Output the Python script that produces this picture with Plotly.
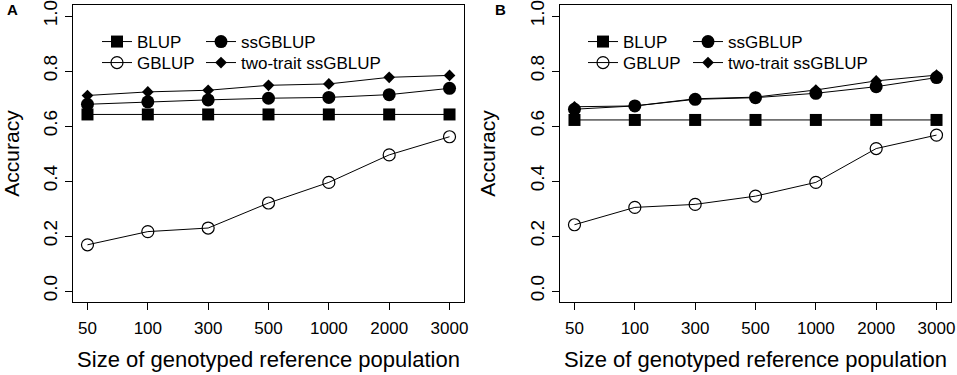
import plotly.graph_objects as go

# ---------------- data ----------------
sizes = ["50", "100", "300", "500", "1000", "2000", "3000"]

# Panel A
blup_a = [0.642, 0.642, 0.642, 0.642, 0.642, 0.642, 0.642]
ssgblup_a = [0.679, 0.688, 0.695, 0.701, 0.704, 0.714, 0.737]
gblup_a = [0.168, 0.216, 0.229, 0.320, 0.395, 0.495, 0.561]
twotrait_a = [0.711, 0.724, 0.730, 0.748, 0.753, 0.777, 0.784]

# Panel B
blup_b = [0.622, 0.622, 0.622, 0.622, 0.622, 0.622, 0.622]
ssgblup_b = [0.661, 0.673, 0.697, 0.703, 0.719, 0.743, 0.776]
gblup_b = [0.241, 0.304, 0.315, 0.345, 0.395, 0.518, 0.567]
twotrait_b = [0.670, 0.673, 0.699, 0.705, 0.731, 0.764, 0.785]

y_ticks = [0.0, 0.2, 0.4, 0.6, 0.8, 1.0]
y_tick_text = ["0.0", "0.2", "0.4", "0.6", "0.8", "1.0"]

FONT = "Liberation Sans, Arial, sans-serif"
W, H = 957, 375


def px(xpix):
    return xpix / W


def py(ypix):
    return 1 - ypix / H


styles = {
    "BLUP": dict(symbol="square", size=12, color="black", line=dict(width=0)),
    "ssGBLUP": dict(symbol="circle", size=13, color="black", line=dict(width=0)),
    "GBLUP": dict(symbol="circle-open", size=12, color="black", line=dict(width=1.2)),
    "two-trait ssGBLUP": dict(symbol="diamond", size=9, color="black", line=dict(width=0)),
}

fig = go.Figure()

panels = [
    ("x", "y", [("BLUP", blup_a, "legend"), ("ssGBLUP", ssgblup_a, "legend2"),
                ("GBLUP", gblup_a, "legend3"), ("two-trait ssGBLUP", twotrait_a, "legend4")]),
    ("x2", "y2", [("BLUP", blup_b, "legend5"), ("ssGBLUP", ssgblup_b, "legend6"),
                  ("GBLUP", gblup_b, "legend7"), ("two-trait ssGBLUP", twotrait_b, "legend8")]),
]

for xa, ya, series in panels:
    for name, vals, leg in series:
        fig.add_trace(go.Scatter(
            x=sizes, y=vals, name=name, mode="lines+markers",
            line=dict(color="black", width=1),
            marker=styles[name],
            xaxis=xa, yaxis=ya, legend=leg,
        ))

ydom = [py(302), py(5)]
axis_common = dict(
    showline=True, linecolor="black", linewidth=1, mirror=True,
    ticks="outside", ticklen=7, tickcolor="black", tickwidth=1,
    showgrid=False, zeroline=False, automargin=False,
    ticklabeloverflow="allow",
)

for i, (x0, x1) in enumerate([(73, 464), (560, 951)]):
    sx = "" if i == 0 else "2"
    fig.layout["xaxis" + sx] = dict(
        domain=[px(x0), px(x1)], anchor="y" + sx, type="category",
        range=[-0.24, 6.24],
        tickfont=dict(size=17, family=FONT, color="black"),
        ticklabelstandoff=4,
        title=dict(text="Size of genotyped reference population",
                   font=dict(size=22, family=FONT, color="black"), standoff=14),
        **axis_common,
    )
    fig.layout["yaxis" + sx] = dict(
        domain=ydom, anchor="x" + sx, range=[-0.04, 1.04],
        tickvals=y_ticks, ticktext=y_tick_text, tickangle=-90,
        tickfont=dict(size=19, family=FONT, color="black"),
        title=dict(text="Accuracy", font=dict(size=21, family=FONT, color="black"), standoff=26),
        **axis_common,
    )

leg_common = dict(orientation="h", xanchor="left", yanchor="middle",
                  font=dict(size=17, family=FONT, color="black"),
                  bgcolor="rgba(0,0,0,0)", borderwidth=0, tracegroupgap=0)

row1, row2 = py(42), py(63)
fig.update_layout(
    template="none",
    width=W, height=H, margin=dict(l=0, r=0, t=0, b=0, autoexpand=False),
    paper_bgcolor="white", plot_bgcolor="white",
    font=dict(family=FONT, color="black"),
    showlegend=True,
    legend=dict(x=px(97), y=row1, **leg_common),
    legend2=dict(x=px(201), y=row1, **leg_common),
    legend3=dict(x=px(97), y=row2, **leg_common),
    legend4=dict(x=px(201), y=row2, **leg_common),
    legend5=dict(x=px(583), y=row1, **leg_common),
    legend6=dict(x=px(688), y=row1, **leg_common),
    legend7=dict(x=px(583), y=row2, **leg_common),
    legend8=dict(x=px(688), y=row2, **leg_common),
    annotations=[
        dict(text="<b>A</b>", x=px(12.3), y=py(9.5), xref="paper", yref="paper",
             xanchor="center", yanchor="middle",
             showarrow=False, font=dict(size=15, family=FONT, color="black")),
        dict(text="<b>B</b>", x=px(500.7), y=py(9.5), xref="paper", yref="paper",
             xanchor="center", yanchor="middle",
             showarrow=False, font=dict(size=15, family=FONT, color="black")),
    ],
)

fig.write_html(
    "out.html",
    config={"displayModeBar": False},
    post_script="document.body.style.margin='0px';document.body.style.overflow='hidden';",
)
